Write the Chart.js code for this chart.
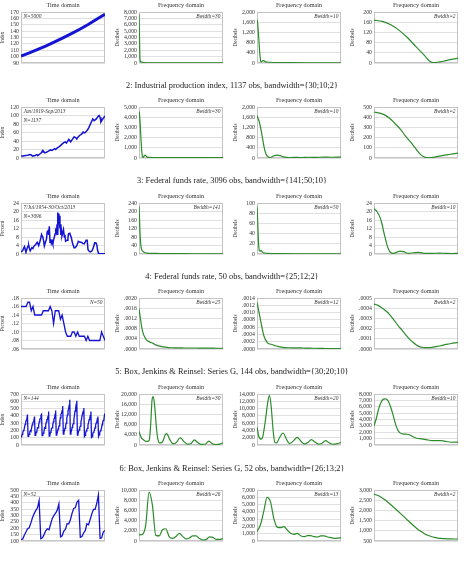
<!DOCTYPE html>
<html>
<head>
<meta charset="utf-8">
<script src="https://cdn.jsdelivr.net/npm/chart.js@4.4.1/dist/chart.umd.min.js"></script>
<style>
body { margin: 0; background: #fff; width: 464px; height: 563px; overflow: hidden; position: relative; font-family: "Liberation Serif", serif; }
canvas { position: absolute; }
.sect { position: absolute; left: 0; width: 464px; text-align: center; font-size: 8.4px; line-height: 10px; color: #222; will-change: transform; }
</style>
</head>
<body>
<script>
// ---------- row 1 ----------
var r1TimeX = [1, 500, 1000, 1500, 2000, 2500, 3000, 3500, 4000, 4500, 5000];
var r1TimeY = [101, 106, 111.5, 117, 123, 129.5, 136, 143, 150.5, 158.5, 166.5];
var r1F30X = [1, 8, 16, 24, 32, 40, 55, 70, 100, 150, 250, 400, 700, 1200, 2500];
var r1F30Y = [7650, 6300, 4000, 1700, 500, 200, 260, 150, 90, 60, 40, 25, 15, 8, 5];
var r1F10X = [1, 20, 40, 60, 80, 100, 120, 150, 180, 210, 250, 300, 400, 600, 1000, 1500, 2500];
var r1F10Y = [1700, 1560, 1250, 850, 450, 170, 40, 60, 100, 90, 50, 40, 30, 20, 12, 8, 5];
var r1F2X = [1, 250, 500, 750, 1000, 1250, 1500, 1650, 1750, 1900, 2100, 2300, 2500];
var r1F2Y = [168, 163, 150, 128, 99, 64, 30, 8, 2, 3, 8, 14, 19];

// ---------- row 2 ----------
var r2TimeX = [1, 30, 60, 90, 120, 140, 160, 190, 216, 228, 260, 280, 290, 300, 310, 324, 350, 372, 400, 420, 456, 470, 492, 520, 552, 580, 600, 615, 648, 672, 700, 720, 745, 756, 792, 820, 840, 864, 900, 920, 940, 972, 990, 1020, 1040, 1056, 1070, 1082, 1100, 1120, 1137];
var r2TimeY = [5, 4.5, 6, 6.5, 8, 7, 4.5, 6, 8, 5.5, 10, 13, 17, 14, 15, 12, 14, 16, 19, 18, 22, 20, 24, 27, 32, 36, 38, 35, 44, 38, 45, 50, 47, 46, 53, 56, 61, 59, 66, 72, 80, 92, 88, 92, 97, 100, 96, 85, 90, 95, 99];
var r2F30X = [1, 5, 10, 15, 20, 25, 30, 36, 42, 48, 55, 70, 100, 200, 300, 400, 568];
var r2F30Y = [4570, 4200, 3100, 1700, 600, 120, 60, 200, 290, 200, 90, 60, 50, 45, 40, 40, 40];
var r2F10X = [1, 17, 30, 39, 50, 62, 75, 90, 106, 125, 140, 160, 180, 207, 250, 300, 350, 400, 450, 500, 568];
var r2F10Y = [1670, 1410, 1050, 750, 400, 160, 50, 20, 60, 100, 115, 90, 45, 15, 25, 20, 30, 25, 35, 30, 35];
var r2F2X = [1, 40, 78, 110, 144, 180, 211, 240, 267, 290, 311, 335, 356, 389, 433, 470, 500, 535, 568];
var r2F2Y = [451, 440, 418, 385, 336, 280, 220, 170, 122, 78, 40, 14, 3, 3, 16, 26, 33, 41, 48];

// ---------- row 3 ----------
var r3TimeX = [1, 60, 100, 130, 183, 220, 260, 287, 320, 340, 400, 440, 470, 540, 600, 652, 700, 730, 757, 780, 800, 830, 861, 900, 940, 966, 1000, 1020, 1044, 1070, 1100, 1120, 1150, 1175, 1200, 1230, 1260, 1279, 1310, 1330, 1347, 1362, 1383, 1400, 1410, 1436, 1450, 1470, 1490, 1510, 1540, 1566, 1600, 1620, 1644, 1700, 1730, 1750, 1801, 1830, 1850, 1900, 1957, 2000, 2060, 2114, 2180, 2230, 2270, 2330, 2401, 2440, 2470, 2520, 2558, 2620, 2680, 2714, 2760, 2800, 2819, 2860, 2950, 3096];
var r3TimeY = [1.0, 1.5, 2.8, 3.5, 0.8, 2.5, 3.8, 4.0, 2.2, 1.5, 3.0, 2.6, 3.5, 4.5, 5.5, 4.0, 6.0, 7.5, 9.2, 8.5, 8.0, 6.5, 3.8, 5.5, 7.0, 10.5, 11, 9, 13, 5.5, 7, 5.0, 6, 4.7, 6.5, 8, 9.5, 11, 10, 14, 19.5, 9, 19, 15, 18, 12, 14, 9, 11, 8.5, 10, 11.5, 8, 9, 6, 6.5, 7.5, 9.5, 9.8, 8.5, 8, 5, 3, 3, 4, 6, 5.5, 5.5, 5, 4.8, 6.5, 6.5, 2, 1.2, 1, 1.5, 3.5, 5.25, 5.25, 4, 2, 0.2, 0.15, 0.15];
var r3F141X = [1, 8, 15, 25, 35, 45, 60, 80, 110, 150, 250, 400, 700, 1000, 1548];
var r3F141Y = [224, 190, 130, 74, 42, 25, 16, 11, 7, 4, 3, 2, 1.5, 1, 1];
var r3F50X = [1, 8, 18, 28, 37, 47, 60, 74, 90, 110, 140, 200, 400, 800, 1548];
var r3F50Y = [93, 80, 51, 25, 11, 6, 5.5, 7, 5, 3, 2, 1.2, 0.8, 0.5, 0.4];
var r3F10X = [1, 55, 117, 150, 178, 210, 239, 270, 300, 362, 423, 485, 546, 638, 730, 822, 945, 1067, 1200, 1313, 1430, 1548];
var r3F10Y = [21.3, 20, 16.9, 14, 10.6, 7.3, 4.3, 2.2, 0.8, 0.3, 0.9, 1.4, 1.1, 0.3, 0.6, 0.8, 0.3, 0.3, 0.4, 0.3, 0.2, 0.3];

// ---------- row 4 ----------
var r4Time = [.16, .16, .16, .16, .17, .17, .15, .16, .14, .14, .14, .14, .14, .15, .15, .15, .15, .16, .15, .12, .15, .15, .15, .13, .14, .12, .10, .09, .09, .09, .10, .10, .09, .10, .09, .09, .09, .09, .08, .09, .08, .08, .08, .08, .08, .08, .08, .10, .09, .08];
var r4F25 = [.00158, .0007, .00038, .00028, .00022, .00015, .00011, .00008, .00006, .00005, .000048, .000045, .000042, .00004, .00004, .00004, .00004, .000038, .000036, .000035, .000034, .000032, .00003, .00003, .00003];
var r4F12 = [.00128, .0008, .00035, .00017, .00013, .0001, .00007, .00005, .00004, .000035, .000033, .00003, .00003, .000028, .000025, .000022, .00002, .00002, .000018, .000015, .000012, .00001, .00001, .00001, .00001];
var r4F2 = [.00044, .00043, .00041, .000385, .000355, .000315, .00027, .000225, .000185, .000142, .000102, .00007, .000042, .000023, .000015, .000013, .000014, .000018, .000025, .000032, .00004, .000047, .000054, .00006, .000065];

// ---------- row 5 : Series G, 144 obs ----------
var r5Time = [112, 115, 145, 171, 196, 204, 242, 284, 315, 340, 360, 417,
  118, 126, 150, 180, 196, 188, 233, 277, 301, 318, 342, 391,
  132, 141, 178, 193, 236, 235, 267, 317, 356, 362, 406, 419,
  129, 135, 163, 181, 235, 227, 269, 313, 348, 348, 396, 461,
  121, 125, 172, 183, 229, 234, 270, 318, 355, 363, 420, 472,
  135, 149, 178, 218, 243, 264, 315, 374, 422, 435, 472, 535,
  148, 170, 199, 230, 264, 302, 364, 413, 465, 491, 548, 622,
  148, 170, 199, 242, 272, 293, 347, 405, 467, 505, 559, 606,
  136, 158, 184, 209, 237, 259, 312, 355, 404, 404, 463, 508,
  119, 133, 162, 191, 211, 229, 274, 306, 347, 359, 407, 461,
  104, 114, 146, 172, 180, 203, 237, 271, 305, 310, 362, 390,
  118, 140, 166, 194, 201, 229, 278, 306, 336, 337, 405, 432];
var r5F30X = [1, 3, 5, 7, 9, 10, 11, 12, 13, 14, 15, 16, 17, 18, 19, 21, 23, 24, 25, 27, 29, 31, 33, 35, 36, 37, 39, 42, 45, 47, 48, 49, 51, 54, 57, 59, 60, 61, 63, 66, 69, 72];
var r5F30Y = [5300, 2800, 2000, 1400, 1500, 2800, 9000, 17500, 19000, 16500, 11000, 5500, 2200, 900, 800, 1300, 3800, 4500, 4200, 2200, 700, 500, 1200, 2600, 2800, 2500, 1300, 350, 600, 1700, 2000, 1700, 800, 250, 300, 1200, 1500, 1300, 500, 200, 350, 900];
var r5F20X = [1, 2.5, 4.5, 6, 8, 10, 11.5, 13, 14.5, 16, 17.5, 20, 23, 26, 28.5, 32, 35, 38, 41, 44, 47, 50, 53, 56, 59, 62, 65, 68, 72];
var r5F20Y = [4900, 2400, 1600, 2500, 6500, 11500, 13600, 10500, 4500, 800, 600, 2000, 3300, 1500, 400, 1200, 2100, 1100, 300, 700, 1500, 800, 250, 500, 1200, 600, 200, 300, 700];
var r5F10X = [1, 3, 5, 7, 9, 11, 13, 15, 17, 19, 21, 23, 25, 28, 31, 34, 37, 41, 45, 50, 54, 58, 62, 66, 72];
var r5F10Y = [2970, 4200, 5700, 6700, 7200, 7250, 6900, 6000, 4800, 3400, 2400, 1900, 1750, 1700, 1600, 1300, 1060, 960, 850, 700, 690, 690, 550, 430, 450];

// ---------- row 6 : Series G, 52 obs ----------
var r6Time = [112, 115, 145, 171, 196, 204, 242, 284, 315, 340, 360, 417,
  118, 126, 150, 180, 196, 188, 233, 277, 301, 318, 342, 391,
  132, 141, 178, 193, 236, 235, 267, 317, 356, 362, 406, 419,
  129, 135, 163, 181, 235, 227, 269, 313, 348, 348, 396, 461,
  121, 125, 172, 183];
var r6F26 = [1200, 1300, 3100, 9600, 7000, 1100, 1000, 2200, 2400, 800, 500, 900, 1500, 900, 400, 600, 1000, 1000, 500, 200, 300, 800, 700, 300, 300, 500];
var r6F13 = [1280, 2200, 4030, 6000, 5400, 3110, 1900, 1830, 1970, 1510, 1050, 910, 1050, 730, 590, 730, 730, 590, 550, 690, 690, 550, 460, 370, 400, 460];
var r6F2 = [2800, 2740, 2660, 2550, 2420, 2280, 2130, 1980, 1830, 1680, 1520, 1370, 1220, 1080, 960, 860, 780, 720, 675, 645, 625, 612, 605, 600, 598, 598];

// ---------- axis ticks ----------
var xt1 = [2500, 5000], xf1 = [1000, 2000];
var xt2 = [250, 500, 750, 1000], xf2 = [100, 200, 300, 400, 500];
var xt3 = [1000, 2000, 3000], xf3 = [500, 1000, 1500];
var xt4 = [10, 20, 30, 40, 50], xf4 = [5, 10, 15, 20, 25];
var xt5 = [25, 50, 75, 100, 125], xf5 = [10, 20, 30, 40, 50, 60, 70];
var xt6 = [10, 20, 30, 40, 50], xf6 = [5, 10, 15, 20, 25];

var sections = [
    '2: Industrial production index, 1137 obs, bandwidth={30;10;2}',
    '3: Federal funds rate, 3096 obs, bandwidth={141;50;10}',
    '4: Federal funds rate, 50 obs, bandwidth={25;12;2}',
    '5: Box, Jenkins & Reinsel: Series G, 144 obs, bandwidth={30;20;10}',
    '6: Box, Jenkins & Reinsel: Series G, 52 obs, bandwidth={26;13;2}'
];

var colLeft = [21, 139, 257, 374];
var rowTop = [12, 107, 203, 298, 394, 490];
var sectTop = [81, 176, 272, 367, 464];
var BLUE = '#1414d2', GREEN = '#2c8c2c';

function comma(v) { return v.toLocaleString('en-US'); }
function dec(n) { return function (v) { return v.toFixed(n).replace(/^0/, ''); }; }

var panels = [
    { r: 0, c: 0, x: r1TimeX, y: r1TimeY, xmax: 5000, xt: xt1, yt: [90, 100, 110, 120, 130, 140, 150, 160, 170], yTitle: 'Index', lw: 3, notes: [['l', 0, 'N=5000']] },
    { r: 0, c: 1, x: r1F30X, y: r1F30Y, xmax: 2500, xt: xf1, yt: [0, 1000, 2000, 3000, 4000, 5000, 6000, 7000, 8000], notes: [['r', 0, 'Bwidth=30']] },
    { r: 0, c: 2, x: r1F10X, y: r1F10Y, xmax: 2500, xt: xf1, yt: [0, 400, 800, 1200, 1600, 2000], notes: [['r', 0, 'Bwidth=10']] },
    { r: 0, c: 3, x: r1F2X, y: r1F2Y, xmax: 2500, xt: xf1, yt: [0, 40, 80, 120, 160, 200], notes: [['r', 0, 'Bwidth=2']] },

    { r: 1, c: 0, x: r2TimeX, y: r2TimeY, xmax: 1137, xt: xt2, yt: [0, 20, 40, 60, 80, 100, 120], yTitle: 'Index', lw: 1.5, notes: [['l', 0, 'Jan/1919-Sep/2013'], ['l', 1, 'N=1137']] },
    { r: 1, c: 1, x: r2F30X, y: r2F30Y, xmax: 568, xt: xf2, yt: [0, 1000, 2000, 3000, 4000, 5000], notes: [['r', 0, 'Bwidth=30']] },
    { r: 1, c: 2, x: r2F10X, y: r2F10Y, xmax: 568, xt: xf2, yt: [0, 400, 800, 1200, 1600, 2000], notes: [['r', 0, 'Bwidth=10']] },
    { r: 1, c: 3, x: r2F2X, y: r2F2Y, xmax: 568, xt: xf2, yt: [0, 100, 200, 300, 400, 500], notes: [['r', 0, 'Bwidth=2']] },

    { r: 2, c: 0, x: r3TimeX, y: r3TimeY, xmax: 3096, xt: xt3, yt: [0, 4, 8, 12, 16, 20, 24], yTitle: 'Percent', lw: 1.5, notes: [['l', 0, '7/Jul/1954-30/Oct/2013'], ['l', 1, 'N=3096']] },
    { r: 2, c: 1, x: r3F141X, y: r3F141Y, xmax: 1548, xt: xf3, yt: [0, 40, 80, 120, 160, 200, 240], notes: [['r', 0, 'Bwidth=141']] },
    { r: 2, c: 2, x: r3F50X, y: r3F50Y, xmax: 1548, xt: xf3, yt: [0, 20, 40, 60, 80, 100], notes: [['r', 0, 'Bwidth=50']] },
    { r: 2, c: 3, x: r3F10X, y: r3F10Y, xmax: 1548, xt: xf3, yt: [0, 4, 8, 12, 16, 20, 24], notes: [['r', 0, 'Bwidth=10']] },

    { r: 3, c: 0, y: r4Time, xmax: 50, xt: xt4, yt: [.06, .08, .10, .12, .14, .16, .18], fmt: dec(2), yTitle: 'Percent', notes: [['r', 0, 'N=50']] },
    { r: 3, c: 1, y: r4F25, xmax: 25, xt: xf4, yt: [0, .0004, .0008, .0012, .0016, .0020], fmt: dec(4), notes: [['r', 0, 'Bwidth=25']] },
    { r: 3, c: 2, y: r4F12, xmax: 25, xt: xf4, yt: [0, .0002, .0004, .0006, .0008, .0010, .0012, .0014], fmt: dec(4), notes: [['r', 0, 'Bwidth=12']] },
    { r: 3, c: 3, y: r4F2, xmax: 25, xt: xf4, yt: [0, .0001, .0002, .0003, .0004, .0005], fmt: dec(4), notes: [['r', 0, 'Bwidth=2']] },

    { r: 4, c: 0, y: r5Time, xmax: 144, xt: xt5, yt: [0, 100, 200, 300, 400, 500, 600, 700], yTitle: 'Index', notes: [['l', 0, 'N=144']] },
    { r: 4, c: 1, x: r5F30X, y: r5F30Y, xmax: 72, xt: xf5, yt: [0, 4000, 8000, 12000, 16000, 20000], notes: [['r', 0, 'Bwidth=30']] },
    { r: 4, c: 2, x: r5F20X, y: r5F20Y, xmax: 72, xt: xf5, yt: [0, 2000, 4000, 6000, 8000, 10000, 12000, 14000], notes: [['r', 0, 'Bwidth=20']] },
    { r: 4, c: 3, x: r5F10X, y: r5F10Y, xmax: 72, xt: xf5, yt: [0, 1000, 2000, 3000, 4000, 5000, 6000, 7000, 8000], notes: [['r', 0, 'Bwidth=10']] },

    { r: 5, c: 0, y: r6Time, xmax: 52, xt: xt6, yt: [100, 150, 200, 250, 300, 350, 400, 450, 500], yTitle: 'Index', notes: [['l', 0, 'N=52']] },
    { r: 5, c: 1, y: r6F26, xmax: 26, xt: xf6, yt: [0, 2000, 4000, 6000, 8000, 10000], notes: [['r', 0, 'Bwidth=26']] },
    { r: 5, c: 2, y: r6F13, xmax: 26, xt: xf6, yt: [0, 1000, 2000, 3000, 4000, 5000, 6000, 7000], notes: [['r', 0, 'Bwidth=13']] },
    { r: 5, c: 3, y: r6F2, xmax: 26, xt: xf6, yt: [500, 1000, 1500, 2000, 2500, 3000], notes: [['r', 0, 'Bwidth=2']] }
];

Chart.defaults.font.family = '"Liberation Serif", serif';
Chart.defaults.color = '#333';

// frame, panel title and the little italic notes
var panelDeco = {
    id: 'panelDeco',
    beforeDatasetsDraw: function (chart) {
        var a = chart.chartArea, ctx = chart.ctx;
        ctx.save();
        ctx.strokeStyle = '#c4c4c4';
        ctx.lineWidth = 1;
        ctx.strokeRect(Math.round(a.left) + 0.5, Math.round(a.top) + 0.5, Math.round(a.width) - 1, Math.round(a.height) - 1);
        ctx.restore();
    },
    afterDraw: function (chart, args, opts) {
        var a = chart.chartArea, ctx = chart.ctx;
        ctx.save();
        ctx.fillStyle = '#333';
        ctx.textBaseline = 'middle';
        ctx.textAlign = 'center';
        ctx.font = '6.2px "Liberation Serif"';
        ctx.fillText(opts.title, (a.left + a.right) / 2, 5.5);
        ctx.font = 'italic 5.4px "Liberation Serif"';
        opts.notes.forEach(function (n) {
            var yy = a.top + 4.5 + n[1] * 9;
            if (n[0] === 'l') { ctx.textAlign = 'left'; ctx.fillText(n[2], a.left + 2.5, yy); }
            else { ctx.textAlign = 'right'; ctx.fillText(n[2], a.right - 2.5, yy); }
        });
        ctx.restore();
    }
};

function addPanel(p) {
    var yw = p.c === 0 ? 21 : 24;
    var w = yw + 84 + 8, h = 12 + 51 + 11;
    var cv = document.createElement('canvas');
    cv.width = w; cv.height = h;
    cv.style.width = w + 'px'; cv.style.height = h + 'px';
    cv.style.left = (colLeft[p.c] - yw) + 'px';
    cv.style.top = (rowTop[p.r] - 12) + 'px';
    document.body.appendChild(cv);

    var isTime = p.c === 0;
    var pts = p.x ? p.x.map(function (x, i) { return { x: x, y: p.y[i] }; })
                  : p.y.map(function (y, i) { return { x: i + 1, y: y }; });
    var fmt = p.fmt || comma;

    return new Chart(cv, {
        type: 'line',
        data: {
            datasets: [{
                data: pts,
                borderColor: isTime ? BLUE : GREEN,
                borderWidth: p.lw || (isTime ? 1.3 : 1.2),
                pointRadius: 0,
                fill: false,
                cubicInterpolationMode: isTime ? 'default' : 'monotone',
                tension: 0
            }]
        },
        options: {
            responsive: false,
            animation: false,
            events: [],
            layout: { padding: { left: 0, right: 8, top: 12, bottom: 0 } },
            plugins: {
                legend: { display: false },
                tooltip: { enabled: false },
                panelDeco: { title: isTime ? 'Time domain' : 'Frequency domain', notes: p.notes }
            },
            scales: {
                x: {
                    type: 'linear', min: 1, max: p.xmax,
                    afterBuildTicks: function (s) { s.ticks = p.xt.map(function (v) { return { value: v }; }); },
                    afterFit: function (s) { s.height = 11; },
                    ticks: { autoSkip: false, maxRotation: 0, padding: 2, font: { size: 5.8 }, callback: function (v) { return String(v); } },
                    grid: { display: false },
                    border: { display: false }
                },
                y: {
                    type: 'linear', min: p.yt[0], max: p.yt[p.yt.length - 1],
                    afterBuildTicks: function (s) { s.ticks = p.yt.map(function (v) { return { value: v }; }); },
                    afterFit: function (s) { s.width = yw; },
                    ticks: { autoSkip: false, padding: 2, font: { size: 5.8 }, callback: function (v) { return fmt(v); } },
                    grid: { color: '#e0e0e0', drawTicks: false, lineWidth: 1 },
                    border: { display: false },
                    title: { display: true, text: p.yTitle || 'Decibels', font: { size: 5.2 }, padding: { top: 0, bottom: 1 } }
                }
            }
        },
        plugins: [panelDeco]
    });
}

panels.forEach(addPanel);

sections.forEach(function (s, i) {
    var d = document.createElement('div');
    d.className = 'sect';
    d.style.top = sectTop[i] + 'px';
    d.textContent = s;
    document.body.appendChild(d);
});
</script>
</body>
</html>
